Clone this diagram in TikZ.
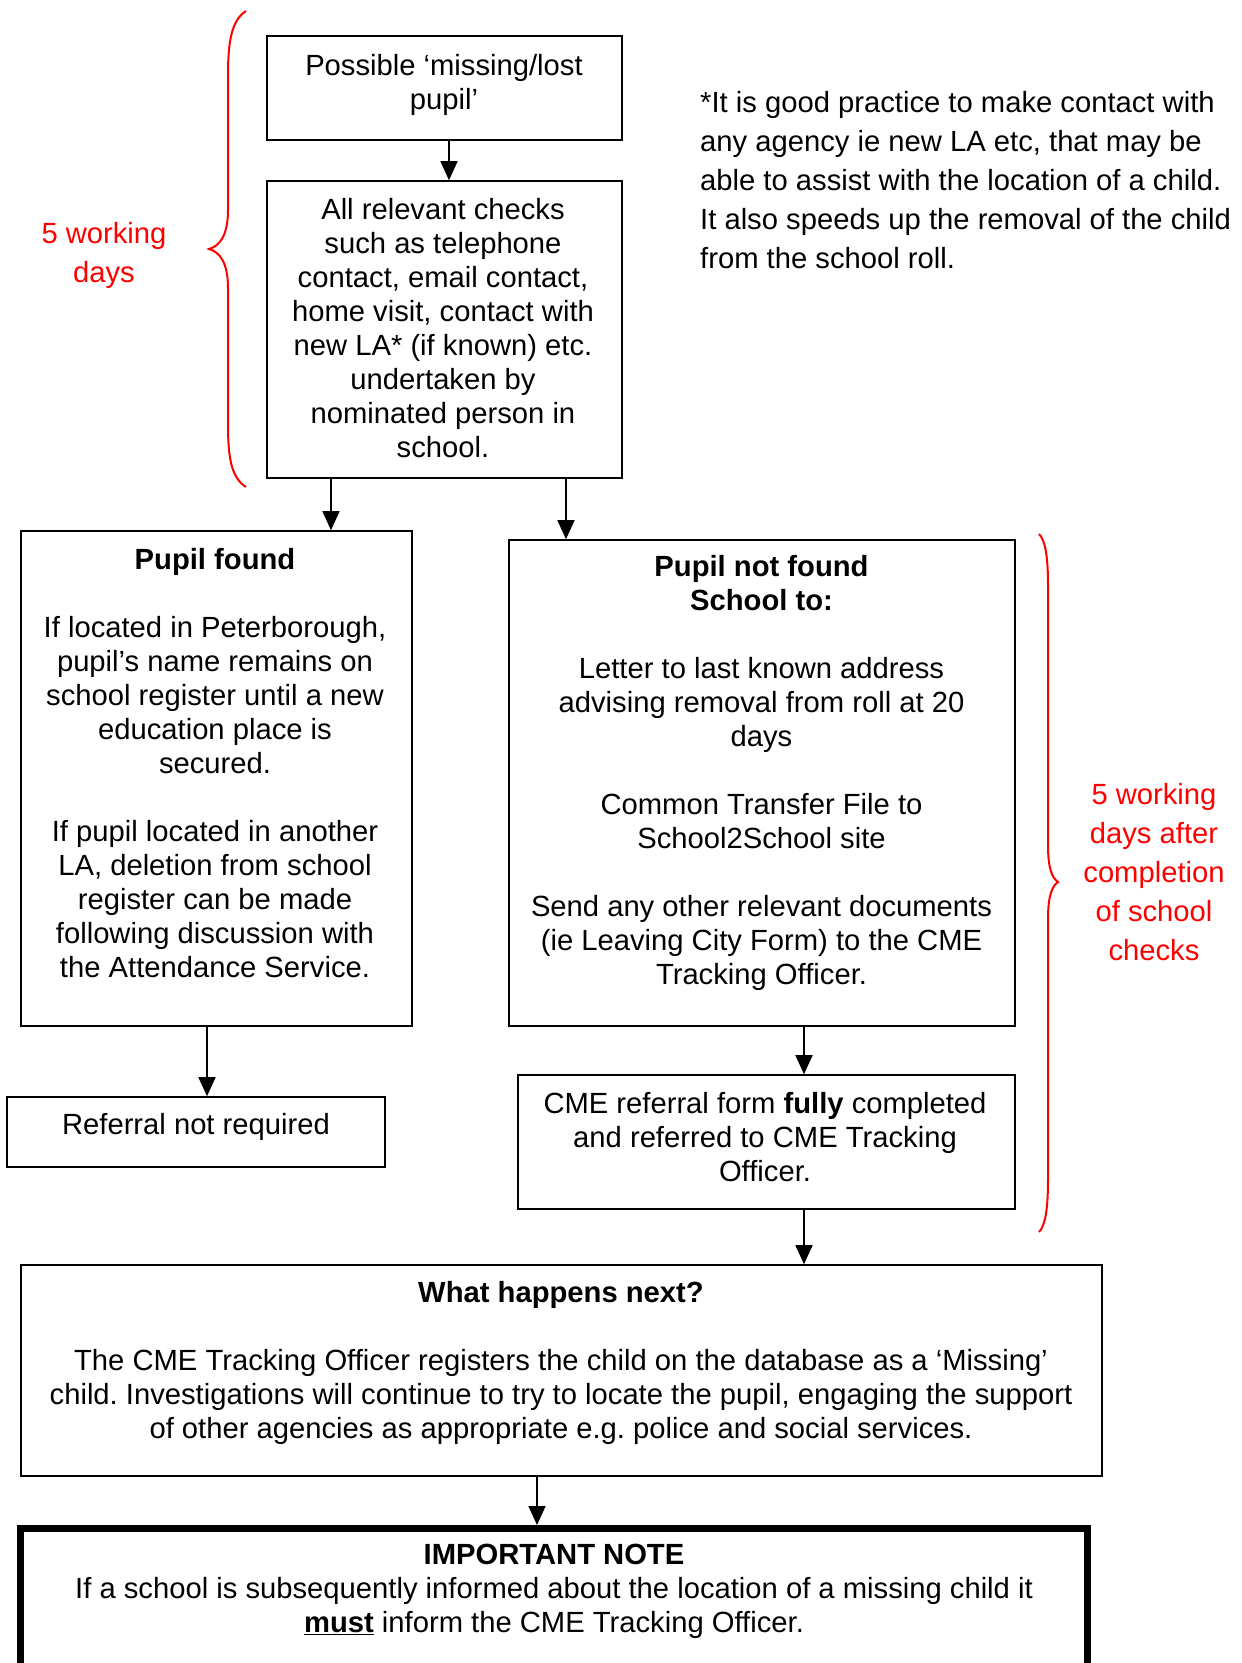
\documentclass[tikz,border=0pt]{standalone}
\usepackage{fontspec}
\setmainfont{Liberation Sans}
\usetikzlibrary{arrows.meta}
\frenchspacing
\begin{document}
\begin{tikzpicture}[x=1pt,y=-1pt,
  box/.style={draw, line width=1.6pt, rectangle, inner sep=0pt},
  txt/.style={align=center, inner sep=0pt, anchor=north,
    font=\fontsize{29.2}{34}\selectfont\frenchspacing},
  redtxt/.style={align=center, inner sep=0pt, anchor=north, text=red,
    font=\fontsize{29.2}{39}\selectfont\frenchspacing},
  arr/.style={line width=1.5pt, -{Triangle[length=19pt,width=17pt]}},
  brace/.style={draw=red, line width=2pt}]
\useasboundingbox (0,0) rectangle (1242,1663);
\clip (0,0) rectangle (1242,1663);

% boxes
\node[box, minimum width=355pt, minimum height=104pt] (b1) at (444.5,88) {};
\node[box, minimum width=355pt, minimum height=297pt] (b2) at (444.5,329.5) {};
\node[box, minimum width=391pt, minimum height=495pt] (found) at (216.5,778.5) {};
\node[box, minimum width=506pt, minimum height=486pt] (notfound) at (762,783) {};
\node[box, minimum width=378pt, minimum height=70pt] (noref) at (196,1132) {};
\node[box, minimum width=497pt, minimum height=134pt] (cme) at (766.5,1142) {};
\node[box, minimum width=1081pt, minimum height=211pt] (next) at (561.5,1370.5) {};
\node[draw, line width=7pt, inner sep=0pt, minimum width=1067pt, minimum height=200pt] (note) at (554,1628.5) {};

% box texts
\node[txt] (b1t) at (444,51) {\strut Possible ‘missing/lost\\pupil’};
\node[txt] (b2t) at (443,195) {\strut All relevant checks\\such as telephone\\contact, email contact,\\home visit, contact with\\new LA* (if known) etc.\\undertaken by\\nominated person in\\school.};
\node[txt] (foundt) at (215,545) {\strut\textbf{Pupil found}\\[34pt]
  If located in Peterborough,\\pupil’s name remains on\\school register until a new\\education place is\\secured.\\[34pt]
  If pupil located in another\\LA, deletion from school\\register can be made\\following discussion with\\the Attendance Service.};
\node[txt] (notfoundt) at (761.5,552) {\strut\textbf{Pupil not found}\\\textbf{School to:}\\[34pt]
  Letter to last known address\\advising removal from roll at 20\\days\\[34pt]
  Common Transfer File to\\School2School site\\[34pt]
  Send any other relevant documents\\(ie Leaving City Form) to the CME\\Tracking Officer.};
\node[txt] (noreft) at (196,1110) {\strut Referral not required};
\node[txt] (cmet) at (765,1089) {\strut CME referral form \textbf{fully} completed\\and referred to CME Tracking\\Officer.};
\node[txt] (nextt) at (561,1278) {\strut\textbf{What happens next?}\\[34pt]
  The CME Tracking Officer registers the child on the database as a ‘Missing’\\child. Investigations will continue to try to locate the pupil, engaging the support\\of other agencies as appropriate e.g. police and social services.};
\node[txt] (notet) at (554,1540) {\strut\textbf{IMPORTANT NOTE}\\If a school is subsequently informed about the location of a missing child it\\\underline{\textbf{must}} inform the CME Tracking Officer.};

% side note
\node[redtxt, text=black, align=left, anchor=north west] (side) at (700,85)
  {\strut *It is good practice to make contact with\\any agency ie new LA etc, that may be\\able to assist with the location of a child.\\It also speeds up the removal of the child\\from the school roll.};

% time-frame labels
\node[redtxt] (days1) at (104,216) {\strut 5 working\\days};
\node[redtxt] (days2) at (1154,777) {\strut 5 working\\days after\\completion\\of school\\checks};

% arrow columns
\coordinate (xa) at (449,0);
\coordinate (xb) at (331,0);
\coordinate (xc) at (566,0);
\coordinate (xd) at (207,0);
\coordinate (xe) at (804,0);
\coordinate (xf) at (537,0);

\draw[arr] (b1.south -| xa) -- (b2.north -| xa);
\draw[arr] (b2.south -| xb) -- (found.north -| xb);
\draw[arr] (b2.south -| xc) -- (notfound.north -| xc);
\draw[arr] (found.south -| xd) -- (noref.north -| xd);
\draw[arr] (notfound.south -| xe) -- (cme.north -| xe);
\draw[arr] (cme.south -| xe) -- (next.north -| xe);
\draw[arr] (next.south -| xf) -- (note.north -| xf);

% braces
\draw[brace] (246,11) .. controls (232,20) and (228,40) .. (228,75)
  -- (228,210) .. controls (228,235) and (220,246) .. (209,249)
  .. controls (220,252) and (228,263) .. (228,288)
  -- (228,425) .. controls (228,460) and (232,478) .. (246,487);
\draw[brace] (1039,534) .. controls (1045,540) and (1048,555) .. (1048,585)
  -- (1048,845) .. controls (1048,868) and (1052,878) .. (1058,882)
  .. controls (1052,886) and (1048,896) .. (1048,919)
  -- (1048,1180) .. controls (1048,1210) and (1045,1226) .. (1039,1232);
\end{tikzpicture}
\end{document}
